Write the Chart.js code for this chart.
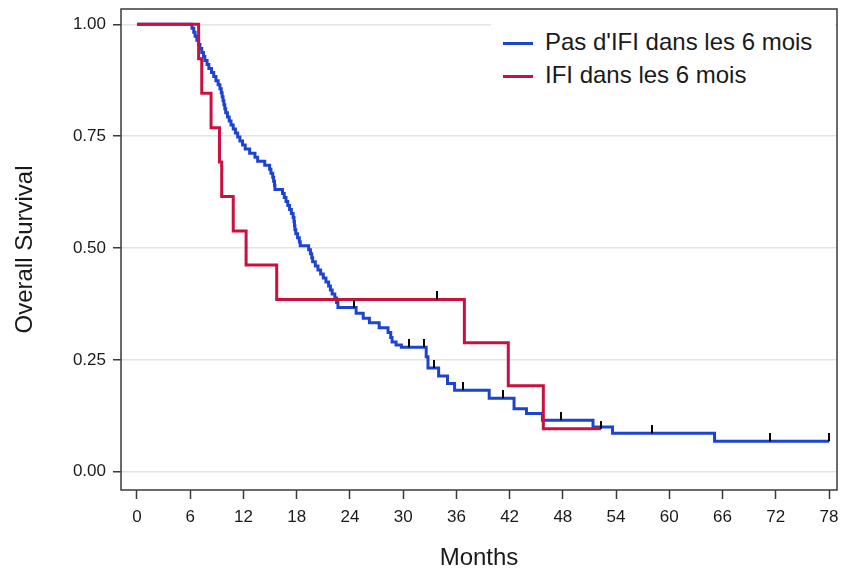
<!DOCTYPE html>
<html>
<head>
<meta charset="utf-8">
<script src="https://cdn.jsdelivr.net/npm/chart.js@4.4.1/dist/chart.umd.min.js"></script>
<style>
  body { margin: 0; background: #fff; }
  #wrap { position: relative; width: 846px; height: 573px; }
  #legend { position: absolute; left: 491px; top: 14px; width: 344px; height: 86px; background: #fff;
            font-family: 'Liberation Sans', Arial, sans-serif; font-size: 24px; color: #1a1a1a; }
  .item { position: absolute; left: 0; height: 30px; line-height: 30px; white-space: nowrap; }
  .swatch { display: inline-block; width: 30px; height: 3px; vertical-align: middle; margin: 0 12px 0 12px; }
</style>
</head>
<body>
<div id="wrap">
  <canvas id="km" width="846" height="573"></canvas>
  <div id="legend"></div>
</div>
<script>
// series names / colours
var seriesNames = ["Pas d'IFI dans les 6 mois", "IFI dans les 6 mois"];
var seriesColors = ['#1c44cf', '#c9103f'];

// axis ticks
var xTicks = [0, 6, 12, 18, 24, 30, 36, 42, 48, 54, 60, 66, 72, 78];
var yTicks = [0, 0.25, 0.5, 0.75, 1];

// Kaplan-Meier steps, "Pas d'IFI" group (month of drop, survival after drop)
var blueMonths = [0, 6.2, 6.4, 6.55, 6.75, 6.95, 7.1, 7.3, 7.5, 7.65, 7.9, 8.1, 8.4, 8.65, 8.9, 9.15, 9.35, 9.5,
  9.6, 9.7, 9.8, 9.9, 10.0, 10.2, 10.4, 10.6, 10.85, 11.1, 11.35, 11.6, 11.9, 12.2, 12.7, 13.3, 13.6, 14.4,
  14.95, 15.1, 15.3, 15.4, 15.5, 15.55, 16.4, 16.6, 16.8, 17.0, 17.2, 17.4, 17.6, 17.7, 17.75, 17.8, 17.9,
  18.1, 18.3, 18.4, 19.35, 19.55, 19.7, 19.8, 20.1, 20.4, 20.7, 21.0, 21.3, 21.6, 21.8, 22.0, 22.3, 22.5,
  22.65, 24.7, 25.5, 26.2, 27.3, 28.3, 28.6, 28.75, 29.2, 29.8, 32.6, 32.8, 34.0, 35.0, 35.8, 39.7, 42.5,
  43.9, 45.7, 51.4, 53.6, 65.1, 78.0];
var blueSurv = [1, 0.991, 0.982, 0.973, 0.964, 0.955, 0.946, 0.937, 0.928, 0.919, 0.910, 0.901, 0.892, 0.883,
  0.874, 0.865, 0.856, 0.847, 0.838, 0.829, 0.820, 0.811, 0.802, 0.793, 0.784, 0.775, 0.766, 0.757, 0.748,
  0.739, 0.730, 0.721, 0.712, 0.703, 0.694, 0.685, 0.676, 0.667, 0.658, 0.649, 0.640, 0.631, 0.622, 0.613,
  0.604, 0.595, 0.586, 0.577, 0.568, 0.559, 0.550, 0.541, 0.532, 0.523, 0.514, 0.505, 0.496, 0.487, 0.478,
  0.469, 0.460, 0.451, 0.442, 0.433, 0.424, 0.415, 0.406, 0.397, 0.388, 0.378, 0.367, 0.354, 0.343, 0.333,
  0.322, 0.311, 0.300, 0.290, 0.283, 0.278, 0.257, 0.232, 0.214, 0.197, 0.182, 0.164, 0.141, 0.130, 0.115,
  0.100, 0.086, 0.068, 0.068];
var blueCensorMonths = [24.5, 30.7, 32.4, 33.5, 36.7, 41.2, 47.8, 58.1, 71.4, 78.0];
var blueCensorSurv = [0.367, 0.278, 0.278, 0.232, 0.182, 0.164, 0.115, 0.086, 0.068, 0.068];

// "IFI" group
var redMonths = [0, 6.95, 7.3, 8.35, 9.3, 9.55, 10.85, 12.3, 15.75, 36.9, 41.85, 45.8, 52.3];
var redSurv = [1, 0.923, 0.846, 0.769, 0.692, 0.615, 0.538, 0.462, 0.385, 0.288, 0.192, 0.096, 0.096];
var redCensorMonths = [33.8, 52.3];
var redCensorSurv = [0.385, 0.096];

function pts(xs, ys) {
  return xs.map(function (x, i) { return { x: x, y: ys[i] }; });
}

// censor mark: short vertical bar sitting above the point
var tick = document.createElement('canvas');
tick.width = 2; tick.height = 16;
var tctx = tick.getContext('2d');
tctx.fillStyle = '#000';
tctx.fillRect(0, 0, 2, 8);

// legend
var legend = document.getElementById('legend');
seriesNames.forEach(function (name, i) {
  var d = document.createElement('div');
  d.className = 'item';
  d.style.top = (13 + i * 33) + 'px';
  d.innerHTML = '<span class="swatch" style="background:' + seriesColors[i] + '"></span>';
  d.appendChild(document.createTextNode(name));
  legend.appendChild(d);
});

var framePlugin = {
  id: 'frame',
  afterDraw: function (chart) {
    var a = chart.chartArea, ctx = chart.ctx;
    ctx.save();
    ctx.strokeStyle = '#3a3a3a';
    ctx.lineWidth = 1.5;
    ctx.strokeRect(a.left, a.top, a.right - a.left, a.bottom - a.top);
    ctx.restore();
  }
};

Chart.defaults.font.family = "'Liberation Sans', Arial, sans-serif";
Chart.defaults.color = '#1a1a1a';

new Chart(document.getElementById('km'), {
  type: 'line',
  data: {
    datasets: [
      { label: 'censor1', data: pts(blueCensorMonths, blueCensorSurv), showLine: false,
        pointStyle: tick, pointRadius: 8, order: 0 },
      { label: 'censor2', data: pts(redCensorMonths, redCensorSurv), showLine: false,
        pointStyle: tick, pointRadius: 8, order: 0 },
      { label: seriesNames[1], data: pts(redMonths, redSurv), borderColor: seriesColors[1],
        borderWidth: 3, stepped: 'before', pointRadius: 0, fill: false, order: 1 },
      { label: seriesNames[0], data: pts(blueMonths, blueSurv), borderColor: seriesColors[0],
        borderWidth: 3, stepped: 'before', pointRadius: 0, fill: false, order: 2 }
    ]
  },
  options: {
    responsive: false,
    animation: false,
    devicePixelRatio: 1,
    layout: { padding: { top: 8, right: 8, left: 0, bottom: 0 } },
    plugins: { legend: { display: false }, tooltip: { enabled: false } },
    scales: {
      x: {
        type: 'linear', min: -1.8, max: 78.9,
        afterBuildTicks: function (s) { s.ticks = xTicks.map(function (v) { return { value: v }; }); },
        afterFit: function (s) { s.height = 83; s.paddingLeft = 0; s.paddingRight = 0; },
        border: { display: false },
        grid: { drawOnChartArea: false, tickLength: 9, tickColor: '#3a3a3a', tickWidth: 1.5 },
        ticks: { font: { size: 17 }, padding: 8, maxRotation: 0, autoSkip: false },
        title: { display: true, text: 'Months', font: { size: 24 }, padding: { top: 0, bottom: 0 } }
      },
      y: {
        type: 'linear', min: -0.0408, max: 1.0341,
        afterBuildTicks: function (s) { s.ticks = yTicks.map(function (v) { return { value: v }; }); },
        afterFit: function (s) { s.width = 121; s.paddingTop = 0; s.paddingBottom = 0; },
        border: { display: false },
        grid: { color: '#e4e4e4', lineWidth: 1.5, tickLength: 8, tickColor: '#3a3a3a', tickWidth: 1.5 },
        ticks: { font: { size: 17 }, padding: 7, callback: function (v) { return v.toFixed(2); } },
        title: { display: true, text: 'Overall Survival', font: { size: 24 }, padding: { top: 11, bottom: 0 } }
      }
    }
  },
  plugins: [framePlugin]
});
</script>
</body>
</html>
